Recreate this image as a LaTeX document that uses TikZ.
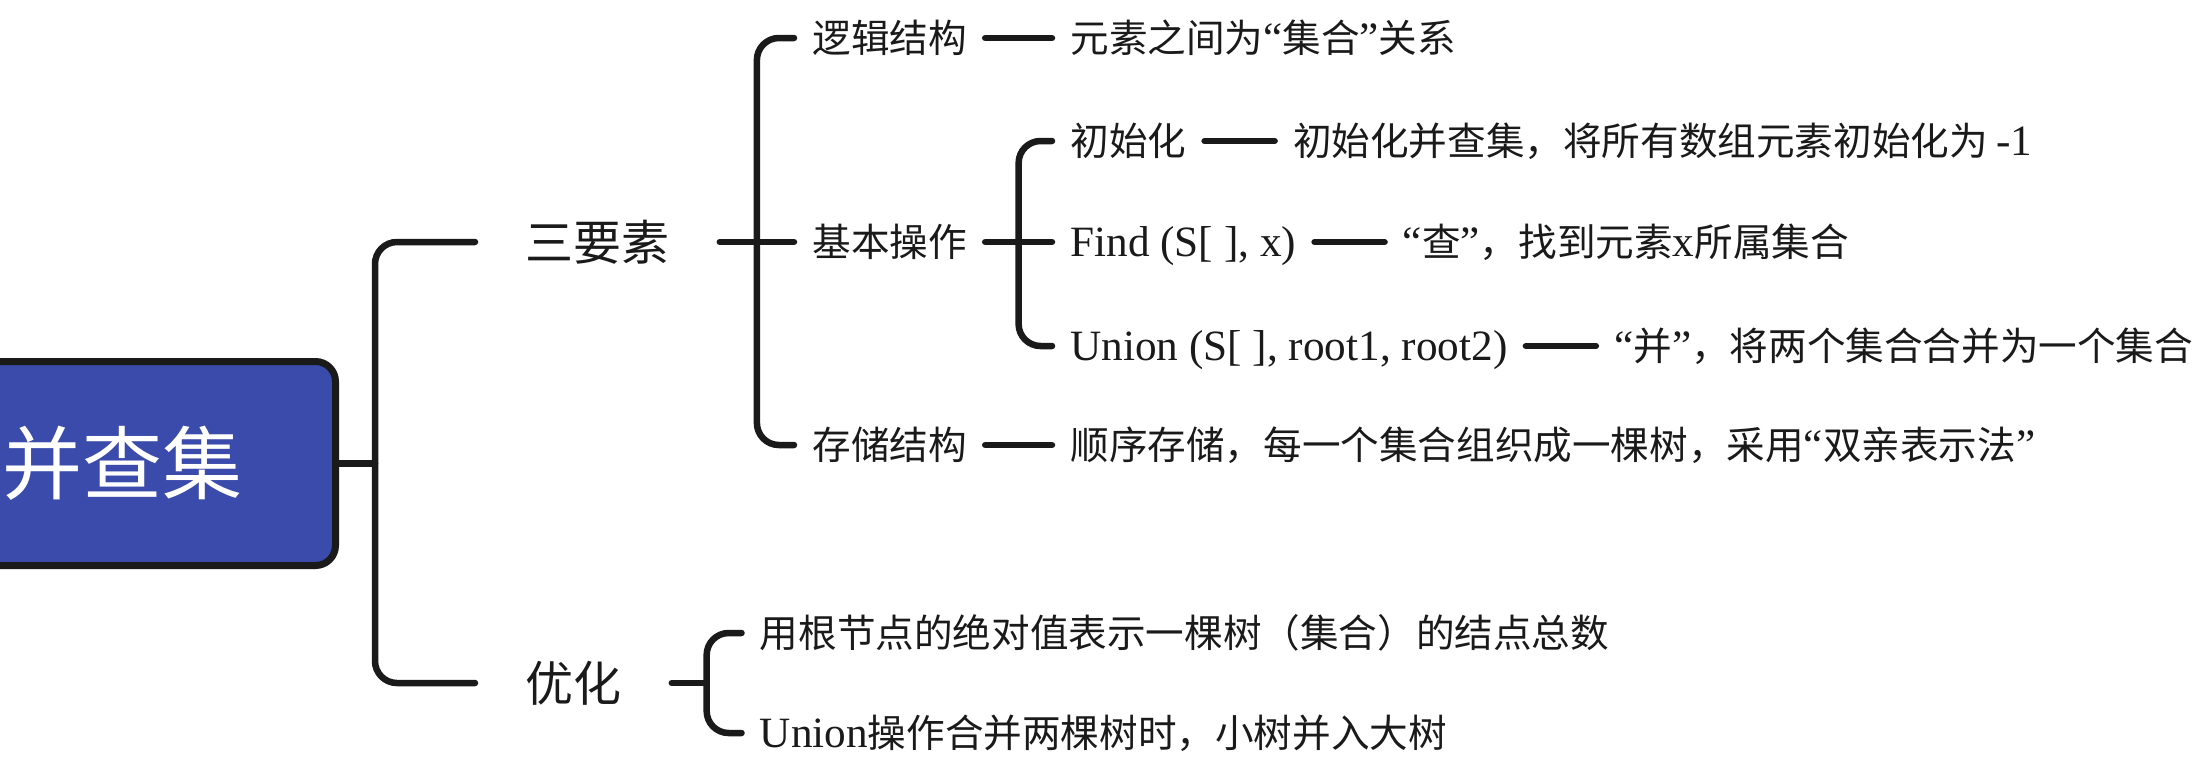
\documentclass[tikz,border=0pt]{standalone}
\usepackage{fontspec}
\setmainfont{Noto Sans CJK SC}
\newfontfamily\latfont{Liberation Serif}[Scale=1.12]
\newcommand\myoq{{\latfont “}}
\newcommand\mycq{{\latfont ”}}
\usetikzlibrary{positioning,calc}
\definecolor{ink}{RGB}{26,26,26}
\definecolor{boxblue}{RGB}{59,75,171}
\begin{document}
\begin{tikzpicture}[x=0.5pt,y=-0.5pt,
  conn/.style={draw=ink,line width=3.25pt,line cap=round,rounded corners=11pt},
  lvone/.style={anchor=west,inner xsep=25pt,inner ysep=0pt,font=\fontsize{24pt}{28pt}\selectfont,text height=21.1pt,text depth=2.9pt,text=ink},
  lvtwo/.style={anchor=west,inner xsep=9pt,inner ysep=0pt,font=\fontsize{19.3pt}{23pt}\selectfont,text height=17pt,text depth=2.3pt,text=ink},
  rootbox/.style={draw=ink,line width=3.5pt,fill=boxblue,rounded corners=10pt,minimum width=212.5pt,minimum height=102pt,text=white,font=\fontsize{40pt}{48pt}\selectfont,inner sep=0pt}
]
\useasboundingbox (0,0) rectangle (2210,773);
\clip (0,0) rectangle (2210,773);
\fill[white] (0,0) rectangle (2210,773);
\node[rootbox] (root) at (123,463.5) {并查集};
\node[lvone] (sys) at (475,242) {三要素};
\node[lvone] (opt) at (475,683) {优化};
\node[lvtwo] (luoji) at (794,38) {逻辑结构};
\node[lvtwo] (jiben) at (794,242) {基本操作};
\node[lvtwo] (cunchu) at (794,445) {存储结构};
\node[lvtwo] (init) at (1052,141) {初始化};
\node[lvtwo] (find) at (1052,242) {{\latfont Find (S[ ], x)}};
\node[lvtwo] (union) at (1052,346) {{\latfont Union (S[ ], root1, root2)}};
\node[lvtwo] (luojiL) at (1052,38) {元素之间为\myoq 集合\mycq 关系};
\node[lvtwo] (cunchuL) at (1052,445) {顺序存储，每一个集合组织成一棵树，采用\myoq 双亲表示法\mycq};
\node[lvtwo,right=35pt of init] (initL) {初始化并查集，将所有数组元素初始化为\ {\latfont -1}};
\node[lvtwo,right=35pt of find] (findL) {\myoq 查\mycq ，找到元素{\latfont x}所属集合};
\node[lvtwo,right=35pt of union] (unionL) {\myoq 并\mycq ，将两个集合合并为一个集合};
\node[lvtwo] (opt1) at (741.5,633) {用根节点的绝对值表示一棵树（集合）的结点总数};
\node[lvtwo] (opt2) at (741.5,733) {{\latfont Union}操作合并两棵树时，小树并入大树};
% root connector
\coordinate (b0) at ([xshift=18pt]root.east);
\draw[conn] (root.east) -- (b0);
\draw[conn] (sys.west) -| (b0) |- (opt.west);
% 三要素
\coordinate (b1) at ($(sys.east)!0.5!(jiben.west)$);
\draw[conn] (sys.east) -- (jiben.west);
\draw[conn] (luoji.west) -| (b1) |- (cunchu.west);
% 基本操作
\coordinate (b2) at ($(jiben.east)!0.5!(find.west)$);
\draw[conn] (jiben.east) -- (find.west);
\draw[conn] (init.west) -| (b2) |- (union.west);
% 优化
\coordinate (b3) at ($(opt.east)!0.5!(opt.east -| opt1.west)$);
\draw[conn] (opt.east) -- (b3);
\draw[conn] (opt1.west) -| (b3) |- (opt2.west);
% dashes
\draw[conn] (luoji.east) -- (luojiL.west);
\draw[conn] (cunchu.east) -- (cunchuL.west);
\draw[conn] (init.east) -- (initL.west);
\draw[conn] (find.east) -- (findL.west);
\draw[conn] (union.east) -- (unionL.west);
\end{tikzpicture}
\end{document}
